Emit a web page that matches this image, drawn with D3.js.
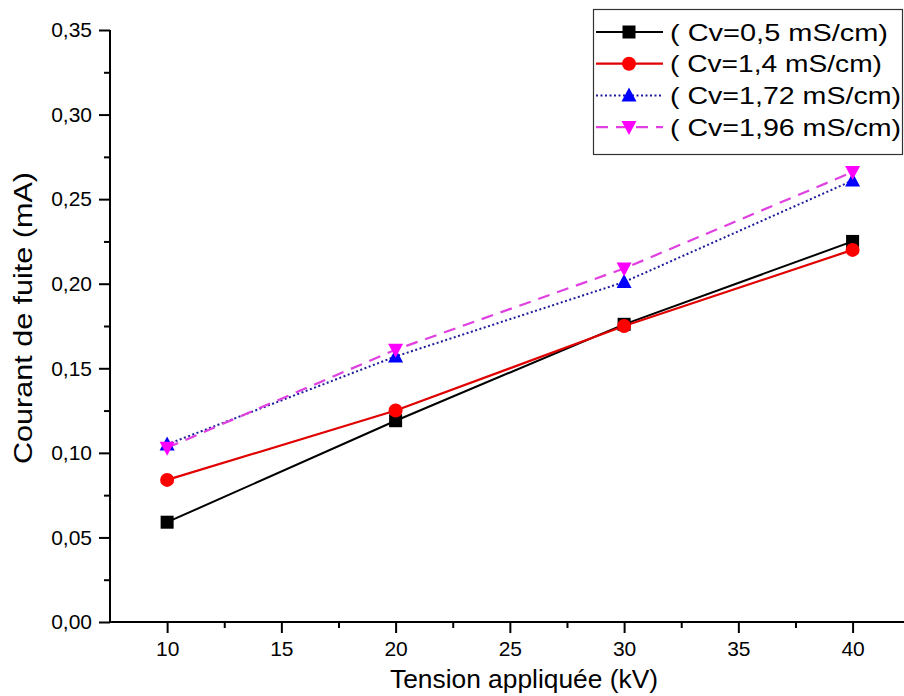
<!DOCTYPE html>
<html>
<head>
<meta charset="utf-8">
<script src="https://cdn.jsdelivr.net/npm/d3@7"></script>
<style>
  html, body { margin: 0; padding: 0; background: #fff; }
  svg { display: block; font-family: "Liberation Sans", Arial, sans-serif; }
</style>
</head>
<body>
<div id="chart"></div>
<script>
// ---------- Data ----------
const voltages = [10, 20, 30, 40];
const cv05  = [0.059, 0.119, 0.176, 0.225];
const cv14  = [0.084, 0.125, 0.175, 0.220];
const cv172 = [0.105, 0.157, 0.201, 0.261];
const cv196 = [0.103, 0.161, 0.209, 0.266];
const seriesNames = ["( Cv=0,5 mS/cm)", "( Cv=1,4 mS/cm)", "( Cv=1,72 mS/cm)", "( Cv=1,96 mS/cm)"];
const xTicks = [10, 15, 20, 25, 30, 35, 40];
const yTicks = [0, 0.05, 0.10, 0.15, 0.20, 0.25, 0.30, 0.35];

const W = 904, H = 696;
const plotL = 110, plotR = 904, plotT = 30, plotB = 622;

const series = [
  { name: seriesNames[0], values: cv05,  line: "#000", marker: "#000", sym: "square", width: 2,   dash: null },
  { name: seriesNames[1], values: cv14,  line: "#e00000", marker: "#ff0000", sym: "circle", width: 2.2, dash: null },
  { name: seriesNames[2], values: cv172, line: "#1c1c9a", marker: "#0000ff", sym: "up", width: 2,   dash: "2,2.5" },
  { name: seriesNames[3], values: cv196, line: "#e040e0", marker: "#ff00ff", sym: "down", width: 2.2, dash: "12,8" }
];

const svg = d3.select("#chart").append("svg").attr("width", W).attr("height", H);

const x = d3.scaleLinear().domain([7.5, 42.25]).range([plotL, plotR]);
const y = d3.scaleLinear().domain([0, 0.35]).range([plotB, plotT]);

const fmt = d => d3.format(".2f")(d).replace(".", ",");

// ---------- Axes ----------
const xMinor = d3.range(12.5, 42, 5);
const yMinor = d3.range(0.025, 0.35, 0.05);

const gx = svg.append("g").attr("transform", `translate(0,${plotB})`);
gx.call(d3.axisBottom(x).tickValues(xTicks).tickSize(11).tickPadding(8).tickFormat(d3.format("d")));
gx.append("g").call(d3.axisBottom(x).tickValues(xMinor).tickSize(6).tickFormat(""))
  .select(".domain").remove();
gx.selectAll(".domain").attr("stroke-width", 2).attr("d", `M${plotL},0H${plotR}`);
gx.selectAll("line").attr("stroke-width", 2);
gx.selectAll("text").attr("font-size", 21).attr("fill", "#000")
  .attr("font-family", "'Liberation Sans', Arial, sans-serif");

const gy = svg.append("g").attr("transform", `translate(${plotL},0)`);
gy.call(d3.axisLeft(y).tickValues(yTicks).tickSize(11).tickPadding(7).tickFormat(fmt));
gy.append("g").call(d3.axisLeft(y).tickValues(yMinor).tickSize(6).tickFormat(""))
  .select(".domain").remove();
gy.selectAll(".domain").attr("stroke-width", 2).attr("d", `M0,${plotB}V${plotT}`);
gy.selectAll("line").attr("stroke-width", 2);
gy.selectAll("text").attr("font-size", 21).attr("fill", "#000")
  .attr("font-family", "'Liberation Sans', Arial, sans-serif");

// axis titles
svg.append("text")
  .attr("x", 524).attr("y", 688)
  .attr("text-anchor", "middle")
  .attr("font-size", 26)
  .attr("textLength", 268).attr("lengthAdjust", "spacingAndGlyphs")
  .text("Tension appliquée (kV)");

svg.append("text")
  .attr("transform", "translate(32,318) rotate(-90)")
  .attr("text-anchor", "middle")
  .attr("font-size", 26)
  .attr("textLength", 292).attr("lengthAdjust", "spacingAndGlyphs")
  .text("Courant de fuite (mA)");

// ---------- Markers ----------
function drawMarker(sel, s, cx, cy) {
  if (s.sym === "square") {
    sel.append("rect").attr("x", cx - 6.5).attr("y", cy - 6.5).attr("width", 13).attr("height", 13).attr("fill", s.marker);
  } else if (s.sym === "circle") {
    sel.append("circle").attr("cx", cx).attr("cy", cy).attr("r", 7).attr("fill", s.marker);
  } else if (s.sym === "up") {
    sel.append("path").attr("d", `M${cx},${cy - 8}L${cx + 7.5},${cy + 6}L${cx - 7.5},${cy + 6}Z`).attr("fill", s.marker);
  } else {
    sel.append("path").attr("d", `M${cx},${cy + 8}L${cx + 7.5},${cy - 6}L${cx - 7.5},${cy - 6}Z`).attr("fill", s.marker);
  }
}

// ---------- Series ----------
const line = d3.line().x((d, i) => x(voltages[i])).y(d => y(d));
const plot = svg.append("g");

series.forEach(s => {
  plot.append("path")
    .attr("d", line(s.values))
    .attr("fill", "none")
    .attr("stroke", s.line)
    .attr("stroke-width", s.width)
    .attr("stroke-dasharray", s.dash);
});
series.forEach(s => {
  const g = plot.append("g");
  s.values.forEach((v, i) => drawMarker(g, s, x(voltages[i]), y(v)));
});

// ---------- Legend ----------
const lg = svg.append("g");
lg.append("rect")
  .attr("x", 593.5).attr("y", 9.5).attr("width", 309).attr("height", 145)
  .attr("fill", "#fff").attr("stroke", "#333").attr("stroke-width", 1.2);

const legendWidths = [218, 212, 231, 231];
series.forEach((s, i) => {
  const cy = 32 + i * 31.7;
  lg.append("line")
    .attr("x1", 596).attr("x2", 663).attr("y1", cy).attr("y2", cy)
    .attr("stroke", s.line).attr("stroke-width", s.width)
    .attr("stroke-dasharray", s.dash);
  drawMarker(lg, s, 629, cy);
  lg.append("text")
    .attr("x", 670).attr("y", cy + 8.5)
    .attr("font-size", 24)
    .attr("textLength", legendWidths[i]).attr("lengthAdjust", "spacingAndGlyphs")
    .text(s.name);
});
</script>
</body>
</html>
